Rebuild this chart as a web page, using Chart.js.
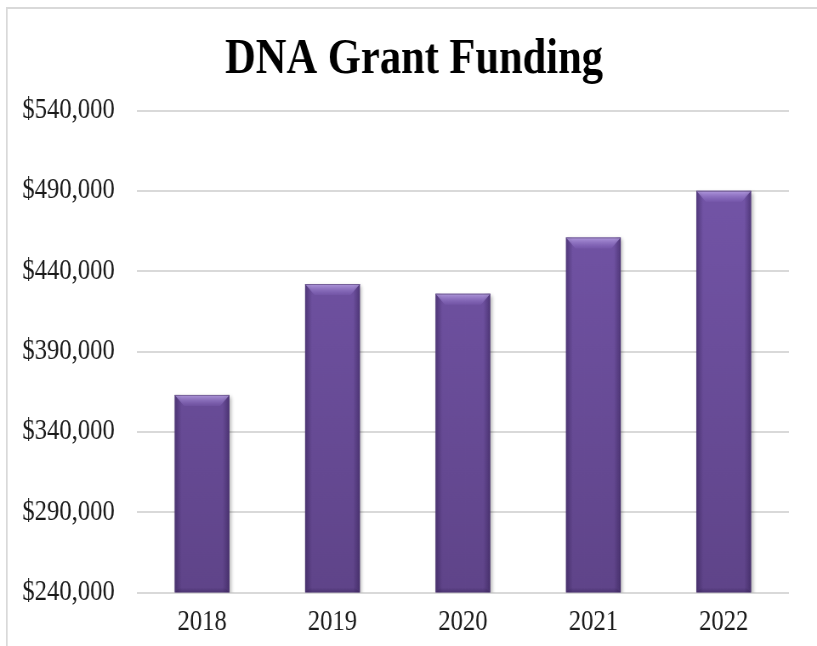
<!DOCTYPE html>
<html>
<head>
<meta charset="utf-8">
<script src="https://cdn.jsdelivr.net/npm/chart.js@4/dist/chart.umd.min.js"></script>
<style>
  html, body { margin: 0; padding: 0; background: #ffffff; }
  #wrap { position: relative; width: 817px; height: 646px; overflow: hidden; }
  /* the drawing surface is wider than its box, giving the narrow serif look */
  #c { display: block; width: 817px; height: 646px; }
</style>
</head>
<body>
<div id="wrap"><canvas id="c" width="961" height="646" style="width:817px;height:646px"></canvas></div>
<script>
// Annual grant funding
const years = ['2018', '2019', '2020', '2021', '2022'];
const funding = [363000, 432000, 426000, 461000, 490000];
const yMin = 240000;
const yMax = 540000;
const yStep = 50000;

const serif = '"Liberation Serif", "Times New Roman", serif';

// Light grey frame around the chart
const framePlugin = {
  id: 'frame',
  beforeDraw(chart) {
    const ctx = chart.ctx;
    ctx.save();
    ctx.strokeStyle = '#d9d9d9';
    ctx.lineWidth = 2;
    ctx.strokeRect(8, 8, 1200, 1000);
    ctx.restore();
  }
};

// Title sits a little right of the page centre
const titleShift = {
  id: 'titleShift',
  afterLayout(chart) {
    const tb = chart.titleBlock;
    if (tb) { tb.left += 19; tb.right += 19; }
  }
};

// Soft drop shadow under the bars
const shadowPlugin = {
  id: 'barShadow',
  beforeDatasetsDraw(chart) {
    const ctx = chart.ctx;
    ctx.save();
    ctx.shadowColor = 'rgba(0,0,0,0.28)';
    ctx.shadowBlur = 4;
    ctx.shadowOffsetX = 2;
    ctx.shadowOffsetY = 2;
  },
  afterDatasetsDraw(chart) {
    chart.ctx.restore();
  }
};

// Bevelled edges on each bar, from the bar elements' own geometry
const bevelPlugin = {
  id: 'bevel',
  afterDatasetsDraw(chart) {
    const ctx = chart.ctx;
    const area = chart.chartArea;
    const meta = chart.getDatasetMeta(0);
    ctx.save();
    ctx.beginPath();
    ctx.rect(area.left, area.top - 2, area.right - area.left, area.bottom - area.top + 2);
    ctx.clip();
    meta.data.forEach(el => {
      const p = el.getProps(['x', 'y', 'base', 'width'], true);
      const l = p.x - p.width / 2, r = p.x + p.width / 2;
      const t = p.y, b = Math.min(p.base, area.bottom);
      // side shading
      let g = ctx.createLinearGradient(l, 0, l + 8, 0);
      g.addColorStop(0, 'rgba(40,22,70,0.45)');
      g.addColorStop(1, 'rgba(40,22,70,0)');
      ctx.fillStyle = g;
      ctx.fillRect(l, t, 8, b - t);
      g = ctx.createLinearGradient(r, 0, r - 8, 0);
      g.addColorStop(0, 'rgba(40,22,70,0.45)');
      g.addColorStop(1, 'rgba(40,22,70,0)');
      ctx.fillStyle = g;
      ctx.fillRect(r - 8, t, 8, b - t);
      // top bevel
      const bh = 11;
      g = ctx.createLinearGradient(0, t, 0, t + bh);
      g.addColorStop(0, 'rgba(205,185,245,0.7)');
      g.addColorStop(1, 'rgba(160,130,220,0.12)');
      ctx.fillStyle = g;
      ctx.beginPath();
      ctx.moveTo(l, t);
      ctx.lineTo(r, t);
      ctx.lineTo(r - 11, t + bh);
      ctx.lineTo(l + 11, t + bh);
      ctx.closePath();
      ctx.fill();
      // top edge line
      ctx.strokeStyle = 'rgba(80,60,110,0.6)';
      ctx.lineWidth = 1;
      ctx.beginPath();
      ctx.moveTo(l, t + 0.5);
      ctx.lineTo(r, t + 0.5);
      ctx.stroke();
      // bottom bevel
      const bb = 5;
      g = ctx.createLinearGradient(0, b - bb, 0, b);
      g.addColorStop(0, 'rgba(40,22,70,0)');
      g.addColorStop(1, 'rgba(40,22,70,0.35)');
      ctx.fillStyle = g;
      ctx.beginPath();
      ctx.moveTo(l + 6, b - bb);
      ctx.lineTo(r - 6, b - bb);
      ctx.lineTo(r, b);
      ctx.lineTo(l, b);
      ctx.closePath();
      ctx.fill();
    });
    ctx.restore();
  }
};

function barFill(context) {
  const chart = context.chart;
  const area = chart.chartArea;
  if (!area) return '#6a4d9e';
  const g = chart.ctx.createLinearGradient(0, area.top, 0, area.bottom);
  g.addColorStop(0, '#7657ac');
  g.addColorStop(1, '#5f4489');
  return g;
}

new Chart(document.getElementById('c'), {
  type: 'bar',
  data: {
    labels: years,
    datasets: [{
      data: funding,
      backgroundColor: barFill,
      borderWidth: 0,
      barPercentage: 0.42,
      categoryPercentage: 1.0
    }]
  },
  options: {
    responsive: false,
    animation: false,
    devicePixelRatio: 1,
    layout: { padding: { left: 8, right: 33, top: 6, bottom: 0 } },
    plugins: {
      legend: { display: false },
      tooltip: { enabled: false },
      title: {
        display: true,
        text: 'DNA Grant Funding',
        color: '#000000',
        font: { family: serif, size: 50, weight: 'bold' },
        padding: { top: 24, bottom: 20.5 }
      }
    },
    scales: {
      x: {
        grid: { display: false, drawTicks: false },
        border: { display: false },
        ticks: {
          color: '#1a1a1a',
          font: { family: serif, size: 29 },
          padding: 12
        },
        afterFit(scale) { scale.height = 53.5; }
      },
      y: {
        min: yMin,
        max: yMax,
        border: { display: false },
        grid: { color: '#d9d9d9', lineWidth: 2, drawTicks: false },
        ticks: {
          stepSize: yStep,
          color: '#1a1a1a',
          font: { family: serif, size: 29 },
          padding: 26,
          callback: v => '$' + Number(v).toLocaleString('en-US')
        },
        afterFit(scale) { scale.width = 153; }
      }
    }
  },
  plugins: [framePlugin, titleShift, shadowPlugin, bevelPlugin]
});
</script>
</body>
</html>
